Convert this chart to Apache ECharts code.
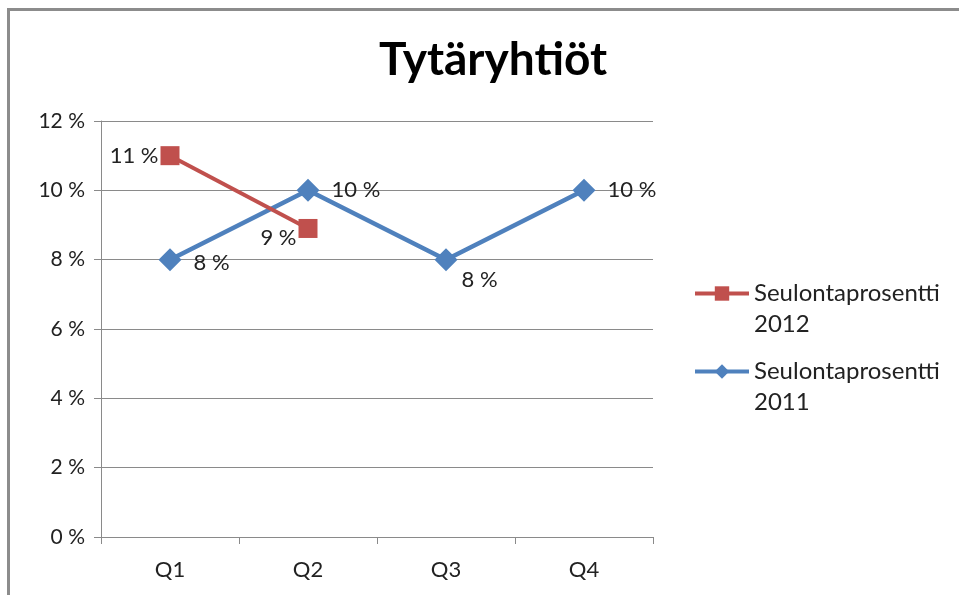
<!DOCTYPE html>
<html>
<head>
<meta charset="utf-8">
<script src="https://cdn.jsdelivr.net/npm/echarts@6/dist/echarts.min.js"></script>
<style>
    html, body { margin: 0; padding: 0; background: #fff; }
    .frame {
        position: absolute; left: 7px; top: 8px; width: 952px; height: 587px;
        border-top: 3px solid #8c8c8c; border-left: 3px solid #8c8c8c;
    }
    #main { position: absolute; left: 0; top: 0; width: 959px; height: 595px; }
</style>
</head>
<body>
<div class="frame"></div>
<div id="main"></div>
<script>
// data
const quarters = ['Q1', 'Q2', 'Q3', 'Q4'];
const seulonta2012 = [11, 8.9, null, null];
const seulonta2011 = [8, 10, 8, 10];
const yTicks = [0, 2, 4, 6, 8, 10, 12];

const font = 'Lato, "Open Sans", sans-serif';

// label placement per point (like the Excel original)
const labels2012 = [
    { position: 'left' },
    { position: 'left', offset: [0, 9] }
];
const labels2011 = [
    { position: 'right', offset: [0, 3] },
    { position: 'right' },
    { position: 'right', distance: 4, offset: [0, 20] },
    { position: 'right' }
];

function withLabels(values, lbl) {
    return values.map(function (v, i) {
        if (v == null) return null;
        return { value: v, label: lbl[i] };
    });
}

const myChart = echarts.init(document.getElementById('main'));
const option = {
    animation: false,
    title: {
        text: 'Tytäryhtiöt',
        left: 488,
        textAlign: 'center',
        top: 32,
        textStyle: { fontFamily: font, fontSize: 46, fontWeight: 'bold', color: '#000' }
    },
    legend: {
        orient: 'vertical',
        left: 693,
        top: 247,
        padding: 0,
        itemWidth: 54,
        itemHeight: 18,
        itemGap: -15,
        data: ['Seulontaprosentti 2012', 'Seulontaprosentti 2011'],
        // empty first line keeps the icon level with the first text line
        formatter: function (name) { return '\n' + name.replace(' ', '\n'); },
        lineStyle: { width: 4 },
        textStyle: { fontFamily: font, fontSize: 24, color: '#222', lineHeight: 31 }
    },
    grid: { left: 101, right: 306, top: 121, bottom: 58 },
    xAxis: {
        type: 'category',
        data: quarters,
        boundaryGap: true,
        axisLine: { lineStyle: { color: '#8a8a8a', width: 1 } },
        axisTick: { show: true, length: 7, lineStyle: { color: '#8a8a8a' } },
        axisLabel: { fontFamily: font, fontSize: 22, color: '#222', margin: 22 }
    },
    yAxis: {
        type: 'value',
        min: yTicks[0],
        max: yTicks[yTicks.length - 1],
        interval: 2,
        axisLine: { show: true, lineStyle: { color: '#8a8a8a', width: 1 } },
        axisTick: { show: true, length: 7, lineStyle: { color: '#8a8a8a' } },
        splitLine: { lineStyle: { color: '#8a8a8a', width: 1 } },
        axisLabel: {
            fontFamily: font, fontSize: 21, color: '#222', margin: 16,
            formatter: function (v) { return v + ' %'; }
        }
    },
    series: [
        {
            name: 'Seulontaprosentti 2011',
            type: 'line',
            data: withLabels(seulonta2011, labels2011),
            symbol: 'diamond',
            symbolSize: 23,
            lineStyle: { color: '#4f81bd', width: 4.5 },
            itemStyle: { color: '#4f81bd' },
            label: {
                show: true, distance: 12,
                fontFamily: font, fontSize: 22, color: '#222',
                formatter: function (p) { return Math.round(p.value) + ' %'; }
            },
            z: 2
        },
        {
            name: 'Seulontaprosentti 2012',
            type: 'line',
            data: withLabels(seulonta2012, labels2012),
            symbol: 'rect',
            symbolSize: 19,
            lineStyle: { color: '#c0504d', width: 4 },
            itemStyle: { color: '#c0504d' },
            label: {
                show: true, distance: 2,
                fontFamily: font, fontSize: 22, color: '#222',
                formatter: function (p) { return Math.round(p.value) + ' %'; }
            },
            z: 3
        }
    ]
};
myChart.setOption(option);
</script>
</body>
</html>
